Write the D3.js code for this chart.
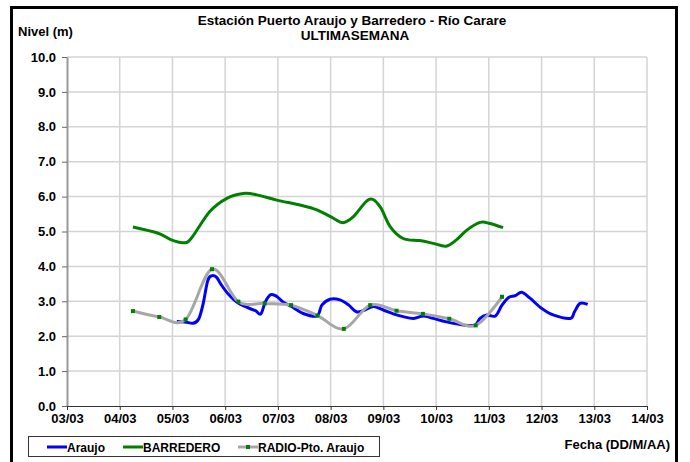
<!DOCTYPE html>
<html>
<head>
<meta charset="utf-8">
<script src="https://cdn.jsdelivr.net/npm/d3@7"></script>
<style>
  body { margin: 0; background: #fff; }
  svg { display: block; font-family: "Liberation Sans", Arial, sans-serif; font-weight: bold; }
</style>
</head>
<body>
<script>
// series data (time "dd/mm HH:MM", level in m)
var araujoTime = ["05/03 02:00","05/03 05:45","05/03 09:30","05/03 12:00","05/03 14:00","05/03 16:00","05/03 17:45","05/03 20:00","05/03 22:15",
  "06/03 01:30","06/03 05:15","06/03 09:45","06/03 13:45","06/03 16:15","06/03 18:15","06/03 20:45","06/03 23:30",
  "07/03 02:30","07/03 06:15","07/03 11:30","07/03 17:45","07/03 20:00","07/03 23:45",
  "08/03 04:15","08/03 08:15","08/03 11:45","08/03 15:30","08/03 19:30",
  "09/03 00:00","09/03 04:30","09/03 09:00","09/03 13:45","09/03 18:15","09/03 22:45",
  "10/03 04:45","10/03 12:30","10/03 17:45","10/03 20:00","10/03 23:00",
  "11/03 03:00","11/03 06:00","11/03 09:00","11/03 12:00","11/03 15:00","11/03 18:45",
  "12/03 00:00","12/03 05:15","12/03 13:00","12/03 15:00","12/03 17:30","12/03 21:00"];
var araujoNivel = [2.42,2.41,2.37,2.50,2.94,3.58,3.73,3.69,3.47,
  3.20,2.98,2.83,2.73,2.64,2.98,3.19,3.14,
  2.97,2.85,2.65,2.58,2.89,3.06,
  3.04,2.89,2.70,2.75,2.85,
  2.75,2.64,2.56,2.51,2.58,2.51,
  2.41,2.32,2.32,2.51,2.61,
  2.58,2.89,3.11,3.16,3.26,3.09,
  2.80,2.61,2.51,2.70,2.94,2.91];

var barrederoTime = ["04/03 06:00","04/03 17:30","04/03 23:30","05/03 05:00","05/03 08:30","05/03 17:00",
  "06/03 00:45","06/03 08:15","06/03 14:30","06/03 23:30","07/03 10:00","07/03 17:45",
  "08/03 01:15","08/03 05:30","08/03 10:15","08/03 17:30","08/03 22:30",
  "09/03 03:00","09/03 09:00","09/03 16:30","09/03 22:45",
  "10/03 04:30","10/03 09:15","10/03 14:00","10/03 20:00","11/03 00:30","11/03 06:30"];
var barrederoNivel = [5.13,4.95,4.76,4.68,4.80,5.57,
  5.95,6.09,6.05,5.90,5.76,5.62,
  5.38,5.25,5.42,5.92,5.71,
  5.15,4.80,4.74,4.66,
  4.58,4.76,5.04,5.26,5.23,5.11];

var radioTime = ["04/03 06:00","04/03 18:00","05/03 06:00","05/03 18:00","06/03 06:00","06/03 18:00","07/03 06:00","07/03 18:00",
  "08/03 06:00","08/03 18:00","09/03 06:00","09/03 18:00","10/03 06:00","10/03 18:00","11/03 06:00"];
var radioNivel = [2.72,2.55,2.48,3.92,2.99,2.94,2.89,2.59,2.21,2.89,2.73,2.64,2.50,2.31,3.13];

var xTicks = ["03/03","04/03","05/03","06/03","07/03","08/03","09/03","10/03","11/03","12/03","13/03","14/03"];
var yTicks = [0,1,2,3,4,5,6,7,8,9,10];

var parse = d3.timeParse("%d/%m %H:%M");
var parseDay = d3.timeParse("%d/%m");

function pairs(t, v) {
  return t.map(function(d, i) { return { t: parse(d), v: v[i] }; });
}

var W = 690, H = 462;
var plotL = 67, plotR = 647, plotT = 57, plotB = 406;

var svg = d3.select("body").append("svg").attr("width", W).attr("height", H);

var x = d3.scaleTime()
  .domain([parseDay(xTicks[0]), parseDay(xTicks[xTicks.length - 1])])
  .range([plotL, plotR]);
var y = d3.scaleLinear().domain([0, 10]).range([plotB, plotT]);

// outer frame
svg.append("rect")
  .attr("x", 11.5).attr("y", 7.5).attr("width", 665).attr("height", 480)
  .attr("fill", "none").attr("stroke", "#000").attr("stroke-width", 3);

// grid
svg.append("g").selectAll("line").data(yTicks.slice(1)).enter().append("line")
  .attr("x1", plotL).attr("x2", plotR)
  .attr("y1", function(d) { return y(d); }).attr("y2", function(d) { return y(d); })
  .attr("stroke", "#d4d4d4").attr("stroke-width", 1.5);
svg.append("g").selectAll("line").data(xTicks.slice(1)).enter().append("line")
  .attr("x1", function(d) { return x(parseDay(d)); }).attr("x2", function(d) { return x(parseDay(d)); })
  .attr("y1", plotT).attr("y2", plotB)
  .attr("stroke", "#d4d4d4").attr("stroke-width", 1.5);

// y axis
var yAxis = svg.append("g").attr("transform", "translate(" + plotL + ",0)")
  .call(d3.axisLeft(y).tickValues(yTicks).tickFormat(d3.format(".1f")).tickSize(5).tickSizeOuter(0).tickPadding(6));
yAxis.select(".domain").attr("stroke", "#999").attr("stroke-width", 2);
yAxis.selectAll(".tick line").attr("stroke", "#666");
yAxis.selectAll("text").attr("font-size", 13).attr("font-family", null).attr("fill", "#000");

// x axis
var xAxis = svg.append("g").attr("transform", "translate(0," + plotB + ")")
  .call(d3.axisBottom(x).tickValues(xTicks.map(parseDay)).tickFormat(d3.timeFormat("%d/%m")).tickSize(4).tickSizeOuter(0).tickPadding(4));
xAxis.select(".domain").attr("stroke", "#333").attr("stroke-width", 1.2);
xAxis.selectAll(".tick line").attr("stroke", "#333");
xAxis.selectAll("text").attr("font-size", 13).attr("font-family", null).attr("fill", "#000");

// lines
var line = d3.line()
  .x(function(d) { return x(d.t); })
  .y(function(d) { return y(d.v); })
  .curve(d3.curveCardinal.tension(0));

svg.append("path").datum(pairs(araujoTime, araujoNivel))
  .attr("d", line).attr("fill", "none").attr("stroke", "#0000ff").attr("stroke-width", 3);
svg.append("path").datum(pairs(barrederoTime, barrederoNivel))
  .attr("d", line).attr("fill", "none").attr("stroke", "#008000").attr("stroke-width", 3);
var radio = pairs(radioTime, radioNivel);
svg.append("path").datum(radio)
  .attr("d", line).attr("fill", "none").attr("stroke", "#a6a6a6").attr("stroke-width", 3);
svg.append("g").selectAll("rect").data(radio).enter().append("rect")
  .attr("x", function(d) { return x(d.t) - 2; })
  .attr("y", function(d) { return y(d.v) - 2; })
  .attr("width", 4).attr("height", 4)
  .attr("fill", "#008000");

// titles
svg.append("text").attr("x", 352).attr("y", 25).attr("text-anchor", "middle")
  .attr("font-size", 13.5).text("Estación Puerto Araujo y Barredero - Río Carare");
svg.append("text").attr("x", 355).attr("y", 40).attr("text-anchor", "middle")
  .attr("font-size", 13.5).text("ULTIMASEMANA");
svg.append("text").attr("x", 18).attr("y", 36).attr("font-size", 13).text("Nivel (m)");
svg.append("text").attr("x", 670).attr("y", 449).attr("text-anchor", "end")
  .attr("font-size", 13).text("Fecha (DD/M/AA)");

// legend
var legendItems = ["Araujo", "BARREDERO", "RADIO-Pto. Araujo"];
var legendColors = ["#0000ff", "#008000", "#a6a6a6"];
var legendX = [47, 123, 238];
var lg = svg.append("g");
lg.append("rect").attr("x", 28.5).attr("y", 436.5).attr("width", 351).attr("height", 20)
  .attr("fill", "#fff").attr("stroke", "#333").attr("stroke-width", 1);
legendItems.forEach(function(name, i) {
  lg.append("line").attr("x1", legendX[i]).attr("x2", legendX[i] + 20)
    .attr("y1", 447).attr("y2", 447)
    .attr("stroke", legendColors[i]).attr("stroke-width", 3);
  if (i == 2) {
    lg.append("rect").attr("x", legendX[i] + 8).attr("y", 445).attr("width", 4).attr("height", 4).attr("fill", "#008000");
  }
  lg.append("text").attr("x", legendX[i] + 20).attr("y", 451.5)
    .attr("font-size", 12).text(name);
});
</script>
</body>
</html>
